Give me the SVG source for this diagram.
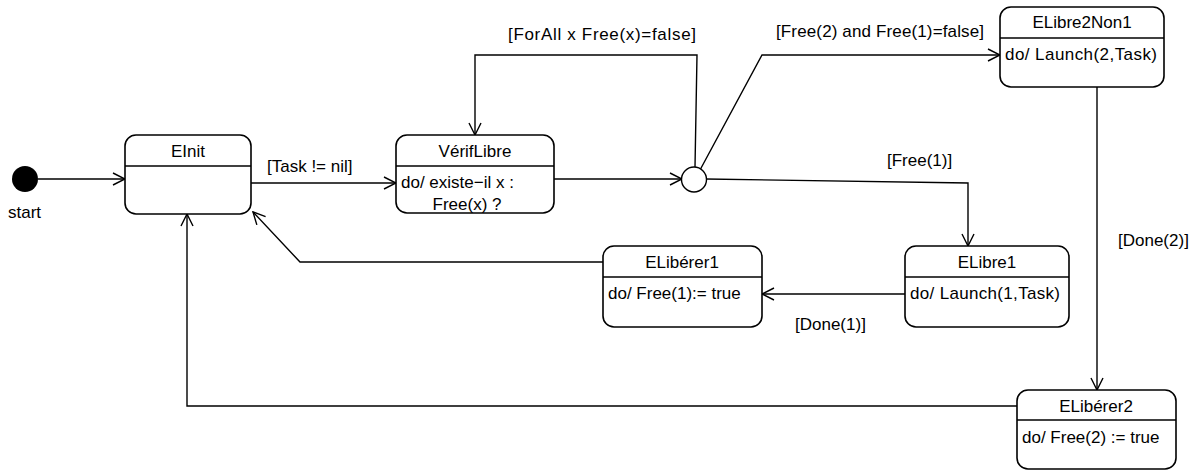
<svg xmlns="http://www.w3.org/2000/svg" width="1194" height="471" viewBox="0 0 1194 471">
  <style>
    .state { fill: #ffffff; stroke: #000000; stroke-width: 1.6; }
    .sep { stroke: #000000; stroke-width: 1.4; }
    .edge { fill: none; stroke: #000000; stroke-width: 1.4; marker-end: url(#open); }
    text { font-family: "Liberation Sans", Arial, sans-serif; font-size: 17px; fill: #000000; }
    .c { text-anchor: middle; }
  </style>
  <defs>
    <marker id="open" viewBox="0 0 14 14" refX="13" refY="7" markerWidth="14" markerHeight="14" markerUnits="userSpaceOnUse" orient="auto">
      <path d="M1,1 L13,7 L1,13" fill="none" stroke="#000000" stroke-width="1.4"/>
    </marker>
  </defs>

  <!-- connectors -->
  <g id="connectors">
    <path class="edge" d="M38,179 L125,179"/>
    <path class="edge" d="M251,183 L396,183"/>
    <text x="267" y="172">[Task != nil]</text>
    <path class="edge" d="M554,179 L682,179"/>
    <path class="edge" d="M695,167 L697,55 L475,55 L475,135"/>
    <text x="508" y="40" textLength="188" lengthAdjust="spacing">[ForAll x Free(x)=false]</text>
    <path class="edge" d="M700,170 L762,55 L1000,55"/>
    <text x="776" y="37" textLength="208" lengthAdjust="spacing">[Free(2) and Free(1)=false]</text>
    <path class="edge" d="M706,179 L968,183 L968,246"/>
    <text x="887" y="166">[Free(1)]</text>
    <path class="edge" d="M905,294 L762,294"/>
    <text x="795" y="330">[Done(1)]</text>
    <path class="edge" d="M603,262 L300,262 L253,212"/>
    <path class="edge" d="M1097,87 L1097,390"/>
    <text x="1118" y="246">[Done(2)]</text>
    <path class="edge" d="M1017,406 L187,406 L187,214"/>
  </g>

  <!-- initial pseudo-state -->
  <g id="start">
    <circle cx="25" cy="179" r="13" fill="#000000"/>
    <text x="8" y="218">start</text>
  </g>

  <!-- decision point -->
  <g id="choice">
    <circle cx="694" cy="179.5" r="12.5" fill="#ffffff" stroke="#000000" stroke-width="1.4"/>
  </g>

  <g id="EInit">
    <rect class="state" x="125" y="135" width="126" height="79" rx="11"/>
    <line class="sep" x1="125" y1="166" x2="251" y2="166"/>
    <text class="c" x="188" y="157">EInit</text>
  </g>

  <g id="VerifLibre">
    <rect class="state" x="396" y="135" width="158" height="78" rx="11"/>
    <line class="sep" x1="396" y1="166" x2="554" y2="166"/>
    <text class="c" x="475" y="157">VérifLibre</text>
    <text x="401" y="188">do/ existe−il x :</text>
    <text class="c" x="467" y="210">Free(x) ?</text>
  </g>

  <g id="ELibre2Non1">
    <rect class="state" x="1000" y="7" width="164" height="80" rx="11"/>
    <line class="sep" x1="1000" y1="38" x2="1164" y2="38"/>
    <text class="c" x="1082" y="28">ELibre2Non1</text>
    <text x="1005" y="60" textLength="152" lengthAdjust="spacing">do/ Launch(2,Task)</text>
  </g>

  <g id="ELibre1">
    <rect class="state" x="905" y="246" width="164" height="81" rx="11"/>
    <line class="sep" x1="905" y1="277" x2="1069" y2="277"/>
    <text class="c" x="987" y="268">ELibre1</text>
    <text x="910" y="299" textLength="150" lengthAdjust="spacing">do/ Launch(1,Task)</text>
  </g>

  <g id="ELiberer1">
    <rect class="state" x="603" y="246" width="159" height="81" rx="11"/>
    <line class="sep" x1="603" y1="277" x2="762" y2="277"/>
    <text class="c" x="682" y="268">ELibérer1</text>
    <text x="608" y="299">do/ Free(1):= true</text>
  </g>

  <g id="ELiberer2">
    <rect class="state" x="1017" y="390" width="159" height="79" rx="11"/>
    <line class="sep" x1="1017" y1="420" x2="1176" y2="420"/>
    <text class="c" x="1096" y="412">ELibérer2</text>
    <text x="1022" y="443">do/ Free(2) := true</text>
  </g>
</svg>
